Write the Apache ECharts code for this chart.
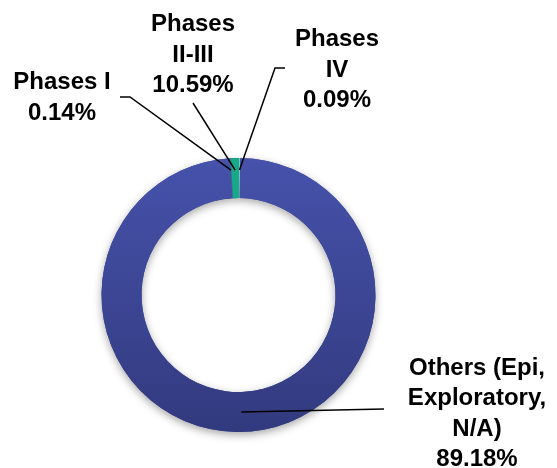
<!DOCTYPE html>
<html><head><meta charset="utf-8">
<script src="https://cdn.jsdelivr.net/npm/echarts@6/dist/echarts.min.js"></script>
<style>html,body{margin:0;padding:0;background:#fff}#c{width:557px;height:468px}</style>
</head><body><div id="c"></div>
<script>
// ---- data ----
const categories = ['Phases I', 'Phases II-III', 'Phases IV', 'Others (Epi, Exploratory, N/A)'];
const labelNames = ['Phases I', 'Phases\nII-III', 'Phases\nIV', 'Others (Epi,\nExploratory,\nN/A)'];
const percentLabels = ['0.14%', '10.59%', '0.09%', '89.18%'];
// slice sizes as drawn in the picture
const sliceValues = [0.1, 0.95, 0.15, 98.8];

// ---- layout / style ----
const CX = 238.5, CY = 295, R_IN = 97, R_OUT = 137;
const labelLayoutCfg = [
  { x: 62,  y: 98,  r: 125, pts: [[130, 97], [120, 97]] },
  { x: 193, y: 55,  r: 125, pts: [[193, 103], [193, 103]] },
  { x: 337, y: 70,  r: 125, pts: [[275, 68], [285, 68]] },
  { x: 477, y: 414, r: 117, pts: [[384, 409], [384, 409]] }
];
const colors = [
  '#1E8E78',
  '#17A88A',
  '#6CCDB8',
  { type: 'linear', x: 0, y: 0, x2: 0, y2: 1,
    colorStops: [{ offset: 0, color: '#4652AB' }, { offset: 1, color: '#323A7E' }] }
];

const baseSeries = {
  type: 'pie',
  center: [CX, CY],
  radius: [R_IN, R_OUT],
  startAngle: 93.6,
  clockwise: true,
  avoidLabelOverlap: false,
  silent: true
};

const chart = echarts.init(document.getElementById('c'));
chart.setOption({
  animation: false,
  series: [
    // shadow layer
    Object.assign({}, baseSeries, {
      z: 1,
      data: categories.map((c, i) => ({ name: c, value: sliceValues[i] })),
      itemStyle: {
        color: '#3C4694',
        borderWidth: 0,
        shadowBlur: 8,
        shadowColor: 'rgba(0,0,0,0.35)',
        shadowOffsetY: 3
      },
      label: { show: false },
      labelLine: { show: false }
    }),
    // coloured slices
    Object.assign({}, baseSeries, {
      z: 2,
      data: categories.map((c, i) => ({
        name: c,
        value: sliceValues[i],
        itemStyle: { color: colors[i] }
      })),
      itemStyle: { borderWidth: 0 },
      label: { show: false },
      labelLine: { show: false }
    }),
    // labels and leader lines on top
    Object.assign({}, baseSeries, {
      z: 5,
      data: categories.map((c, i) => ({ name: c, value: sliceValues[i] })),
      itemStyle: { color: 'rgba(0,0,0,0)', borderWidth: 0 },
      label: {
        show: true,
        position: 'outside',
        formatter: p => labelNames[p.dataIndex] + '\n' + percentLabels[p.dataIndex],
        fontFamily: 'Arial, "Liberation Sans", sans-serif',
        fontWeight: 'bold',
        fontSize: 24,
        lineHeight: 30.5,
        color: '#000',
        align: 'center'
      },
      labelLine: {
        show: true,
        length: 10,
        length2: 10,
        lineStyle: { color: '#000', width: 1.5 }
      },
      labelLayout: function (params) {
        const cfg = labelLayoutCfg[params.dataIndex];
        const p0 = params.labelLinePoints && params.labelLinePoints[0];
        let ax = CX, ay = CY - cfg.r;
        if (p0) {
          const dx = p0[0] - CX, dy = p0[1] - CY;
          const d = Math.sqrt(dx * dx + dy * dy) || 1;
          ax = CX + dx / d * cfg.r;
          ay = CY + dy / d * cfg.r;
        }
        return {
          x: cfg.x,
          y: cfg.y,
          align: 'center',
          verticalAlign: 'middle',
          labelLinePoints: [[ax, ay], cfg.pts[0], cfg.pts[1]]
        };
      }
    })
  ]
});
</script>
</body></html>
